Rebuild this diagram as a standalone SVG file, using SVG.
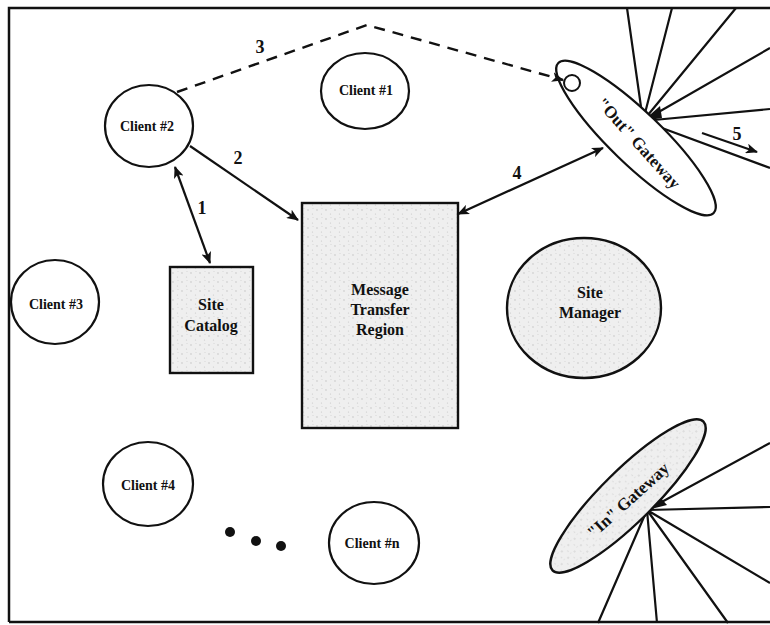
<svg xmlns="http://www.w3.org/2000/svg" width="770" height="625" viewBox="0 0 770 625">
  <defs>
    <pattern id="stipple" width="9" height="9" patternUnits="userSpaceOnUse">
      <rect width="9" height="9" fill="#efefef"/>
      <circle cx="2" cy="3" r="0.7" fill="#bdbdbd"/>
      <circle cx="6.5" cy="7" r="0.6" fill="#c8c8c8"/>
      <circle cx="7" cy="1.5" r="0.5" fill="#d0d0d0"/>
    </pattern>
    <marker id="head" viewBox="0 0 12 10" refX="11" refY="5" markerWidth="12" markerHeight="10" markerUnits="userSpaceOnUse" orient="auto-start-reverse">
      <path d="M0,0 L12,5 L0,10 L3,5 z" fill="#111"/>
    </marker>
    <style>
      .frame { fill: none; stroke: #111; stroke-width: 2.5; }
      .node { fill: #fff; stroke: #111; stroke-width: 2.2; }
      .shaded { fill: url(#stipple); stroke: #111; stroke-width: 2.4; }
      .edge { fill: none; stroke: #111; stroke-width: 2.2; }
      .dash { fill: none; stroke: #111; stroke-width: 2.4; stroke-dasharray: 11 8; }
      .fan { fill: none; stroke: #111; stroke-width: 2.2; }
      .lbl { font-family: "Liberation Serif", "Times New Roman", serif; font-weight: bold; fill: #111; text-anchor: middle; }
      .small { font-size: 14px; }
      .big { font-size: 16px; }
      .gw { font-size: 17px; }
      .num { font-size: 18px; }
    </style>
  </defs>

  <rect width="770" height="625" fill="#fff"/>
  <!-- outer frame (open on the right) -->
  <path class="frame" d="M9,622 L9,8 L770,8 M9,622 L770,622"/>

  <!-- fan of links leaving the outgoing gateway -->
  <g id="out-fan">
    <path class="fan" d="M643,121 L627,8 M643,121 L672,8 M643,121 L736,8 M643,121 L770,48 M643,121 L770,109 M643,121 L770,168"/>
    <polygon points="643,121 660,106 662,118" fill="#111"/>
  </g>
  <!-- fan of links entering the incoming gateway -->
  <g id="in-fan">
    <path class="fan" d="M647,510 L770,443 M647,510 L770,507 M647,510 L770,583 M647,510 L728,623 M647,510 L657,623 M647,510 L598,623"/>
    <polygon points="647,510 658,495 667,505" fill="#111"/>
  </g>

  <!-- nodes -->
  <g id="client-1">
    <ellipse class="node" cx="365" cy="91" rx="44" ry="38"/>
    <text class="lbl small" x="366" y="95">Client #1</text>
  </g>
  <g id="client-2">
    <ellipse class="node" cx="149" cy="126" rx="44" ry="41"/>
    <text class="lbl small" x="147" y="131">Client #2</text>
  </g>
  <g id="client-3">
    <ellipse class="node" cx="55" cy="302" rx="44" ry="42"/>
    <text class="lbl small" x="56" y="309">Client #3</text>
  </g>
  <g id="client-4">
    <ellipse class="node" cx="148" cy="484" rx="45" ry="42"/>
    <text class="lbl small" x="148" y="490">Client #4</text>
  </g>
  <g id="client-n">
    <ellipse class="node" cx="374" cy="543" rx="45" ry="41"/>
    <text class="lbl small" x="372" y="548">Client #n</text>
  </g>
  <g id="ellipsis">
    <circle cx="230" cy="532" r="5" fill="#111"/>
    <circle cx="256" cy="541" r="5" fill="#111"/>
    <circle cx="281" cy="546" r="5" fill="#111"/>
  </g>
  <g id="site-catalog">
    <rect class="shaded" x="170" y="267" width="83" height="106"/>
    <text class="lbl big" x="211" y="310">Site</text>
    <text class="lbl big" x="211" y="331">Catalog</text>
  </g>
  <g id="message-transfer-region">
    <rect class="shaded" x="302" y="203" width="156" height="225"/>
    <text class="lbl big" x="380" y="295">Message</text>
    <text class="lbl big" x="380" y="315">Transfer</text>
    <text class="lbl big" x="380" y="335">Region</text>
  </g>
  <g id="site-manager">
    <ellipse class="shaded" cx="584" cy="308" rx="77" ry="70"/>
    <text class="lbl big" x="590" y="298">Site</text>
    <text class="lbl big" x="590" y="318">Manager</text>
  </g>
  <g id="out-gateway">
    <ellipse class="node" cx="636" cy="138" rx="108" ry="26" transform="rotate(44 636 138)"/>
    <circle cx="572" cy="83" r="8" fill="none" stroke="#111" stroke-width="2"/>
    <text class="lbl gw" x="639" y="149" transform="rotate(48 639 143)">"Out" Gateway</text>
  </g>
  <g id="in-gateway">
    <ellipse class="shaded" cx="628" cy="496" rx="106" ry="26" transform="rotate(-44.6 628 496)"/>
    <text class="lbl gw" x="628" y="506" transform="rotate(-42 628 500)">"In" Gateway</text>
  </g>

  <!-- connectors -->
  <g id="connectors">
    <line class="edge" x1="175" y1="167" x2="210" y2="263" marker-start="url(#head)" marker-end="url(#head)"/>
    <line class="edge" x1="190" y1="146" x2="298" y2="220" marker-end="url(#head)"/>
    <polyline class="dash" points="177,92 367,25 563,80" marker-end="url(#head)"/>
    <line class="edge" x1="458" y1="214" x2="603" y2="148" marker-start="url(#head)" marker-end="url(#head)"/>
    <line class="edge" x1="702" y1="133" x2="757" y2="152" marker-end="url(#head)"/>
    <text class="lbl num" x="202" y="214">1</text>
    <text class="lbl num" x="238" y="164">2</text>
    <text class="lbl num" x="260" y="53">3</text>
    <text class="lbl num" x="517" y="179">4</text>
    <text class="lbl num" x="737" y="140">5</text>
  </g>
</svg>
